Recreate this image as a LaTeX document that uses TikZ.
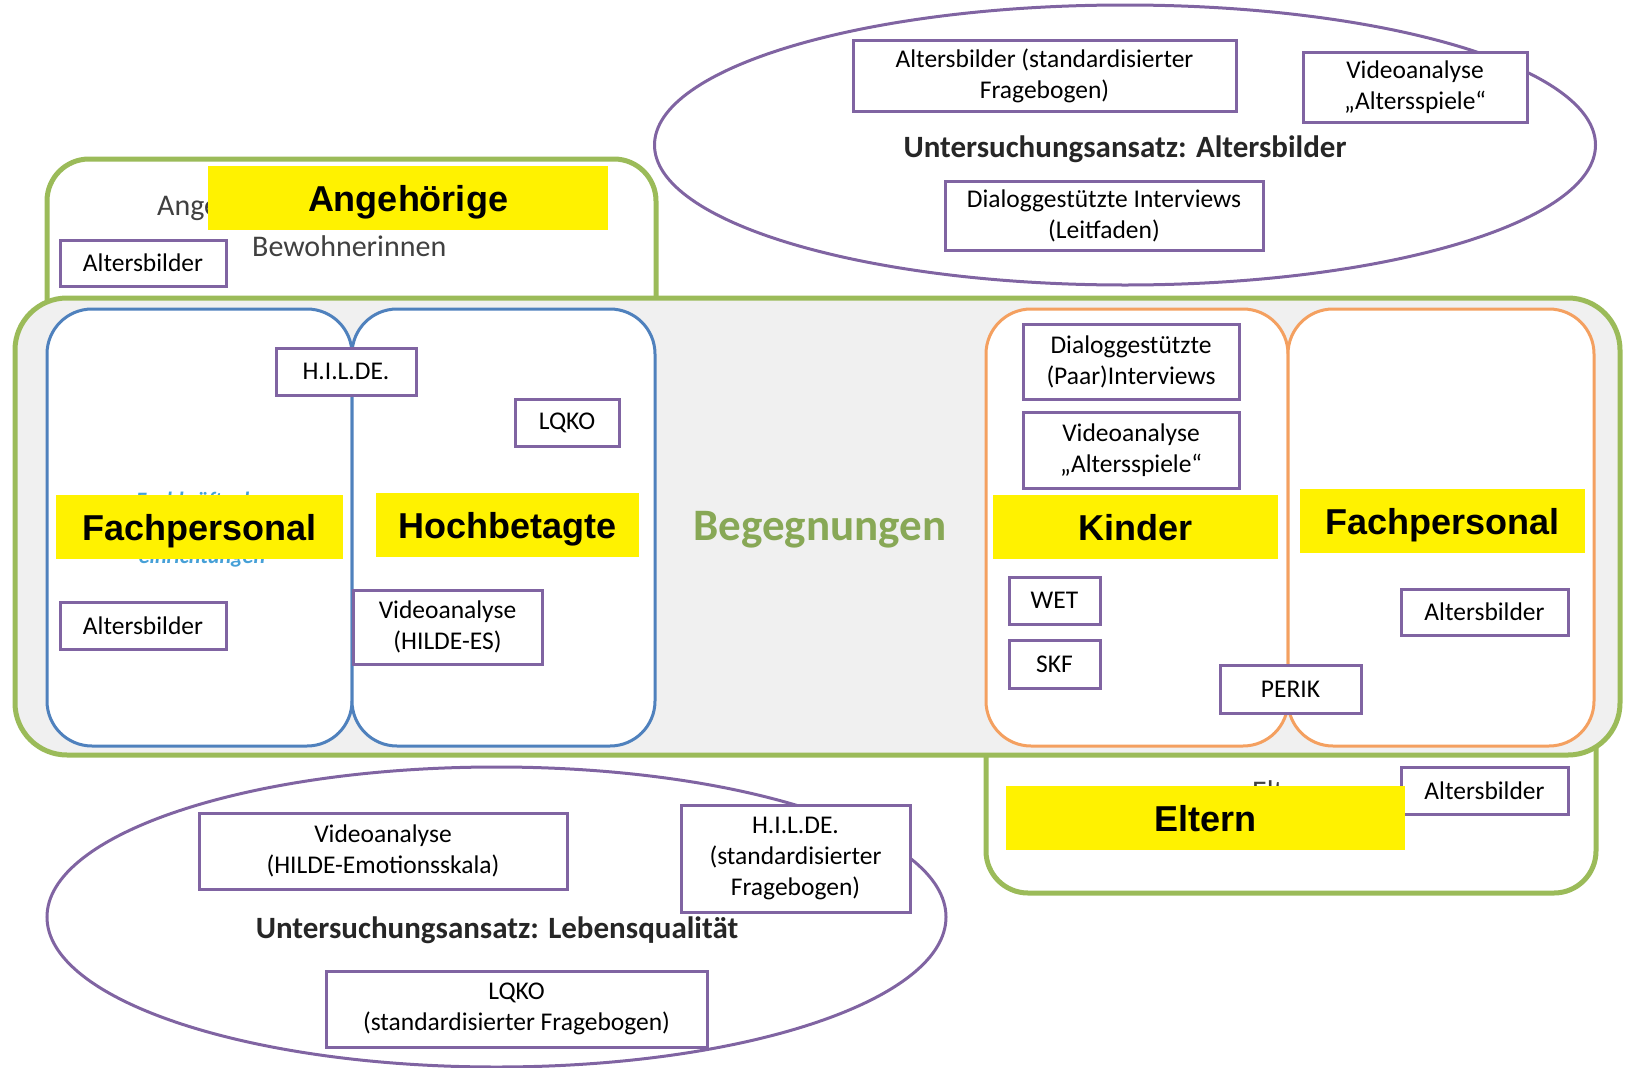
\documentclass[tikz,border=0pt]{standalone}
\usepackage{fontspec}
\setmainfont{Carlito}
\newfontfamily\markfont{Liberation Sans}
\usetikzlibrary{shapes.geometric, positioning, calc}
\definecolor{methodpurple}{RGB}{128,100,162}
\definecolor{groupgreen}{RGB}{155,187,89}
\definecolor{groupblue}{RGB}{79,129,189}
\definecolor{grouporange}{RGB}{244,160,96}
\definecolor{meetgreen}{RGB}{136,168,86}
\definecolor{meetgray}{RGB}{240,240,240}
\definecolor{hiddenblue}{RGB}{70,160,215}
\tikzstyle{method} = [rectangle, draw=methodpurple, line width=3pt, fill=white, align=center, inner sep=0pt, font=\fontsize{25.5}{31}\selectfont]
\tikzstyle{approach} = [ellipse, draw=methodpurple, line width=3pt, inner sep=0pt]
\tikzstyle{approach_title} = [font=\bfseries\fontsize{31}{36}\selectfont, text=black!85]
\tikzstyle{group_green} = [rectangle, rounded corners=42pt, draw=groupgreen, line width=5pt, fill=white]
\tikzstyle{group_blue} = [rectangle, rounded corners=45pt, draw=groupblue, line width=3pt, fill=white]
\tikzstyle{group_orange} = [rectangle, rounded corners=45pt, draw=grouporange, line width=3pt, fill=white]
\tikzstyle{marker} = [rectangle, fill=yellow, inner sep=0pt, text height=30pt, text depth=3pt, font=\markfont\bfseries\fontsize{36}{40}\selectfont]
\tikzstyle{grouptext} = [font=\fontsize{30}{34}\selectfont, text=black!75, inner sep=0pt]

\begin{document}
\begin{tikzpicture}[x=1pt, y=-1pt,
	meeting/.style={rectangle, rounded corners=52pt, draw=groupgreen, line width=5pt, fill=meetgray}]

	\useasboundingbox (0,0) rectangle (1625,1068);

		% Untersuchungsansatz Altersbilder
		\node (ageimages) at (1125,145) [approach, minimum width=941, minimum height=280] {};
		\node (ageimages_quest) at (1044.5,75.5) [method, minimum width=383, minimum height=71] {Altersbilder (standardisierter\\Fragebogen)};
		\node (ageimages_video) at (1415,87) [method, minimum width=224, minimum height=70] {Videoanalyse\\„Altersspiele“};
		\node (ageimages_title) at (1125,149) [approach_title] {Untersuchungsansatz: Altersbilder};
		\node (ageimages_interview) at (1104,215.5) [method, minimum width=318, minimum height=69] {Dialoggestützte Interviews\\(Leitfaden)};

		% Untersuchungsansatz Lebensqualitaet
		\node (lifequality) at (496.5,917) [approach, minimum width=899, minimum height=300] {};
		\node (lifequality_video) at (383,851) [method, minimum width=368, minimum height=76] {Videoanalyse\\(HILDE-Emotionsskala)};
		\node (lifequality_hilde) at (795.5,858.5) [method, minimum width=229, minimum height=107] {H.I.L.DE.\\(standardisierter\\Fragebogen)};
		\node (lifequality_title) at (497,930) [approach_title] {Untersuchungsansatz: Lebensqualität};
		\node (lifequality_lqko) at (516.5,1009) [method, minimum width=381, minimum height=76] {LQKO\\(standardisierter Fragebogen)};

		% Angehoerige and Eltern, partly behind the meeting box
		\node (relatives) at (351.5,249.5) [group_green, minimum width=609, minimum height=181] {};
		\node (parents) at (1291,796.5) [group_green, minimum width=610, minimum height=193] {};

		\node (meeting) at (817.5,526.5) [meeting, minimum width=1605, minimum height=457] {};

		\node (staff_left) at (199.5,527.5) [group_blue, minimum width=305, minimum height=437] {};
		\node (elderly) at (503.5,527.5) [group_blue, minimum width=303, minimum height=437] {};
		\node (children) at (1137,527.5) [group_orange, minimum width=302, minimum height=437] {};
		\node (staff_right) at (1441,527.5) [group_orange, minimum width=306, minimum height=437] {};

		\node (begegnungen) at (820,530) [font=\bfseries\fontsize{45}{50}\selectfont, text=meetgreen] {Begegnungen};

		% methods inside the groups
		\node (relatives_ab) at (143,263) [method, minimum width=166, minimum height=46] {Altersbilder};
		\node (relatives_txt) at (157,208) [grouptext, anchor=west] {Angehörige};
		\node (relatives_txt2) at (252,246) [grouptext, anchor=west] {Bewohnerinnen};

		\node (staff_hidden) at (202,530) [font=\bfseries\itshape\fontsize{22}{28}\selectfont, text=hiddenblue, align=center] {Fachkräfte der\\Pflege-\\einrichtungen};
		\node (elderly_hilde) at (346,371.5) [method, minimum width=140, minimum height=47] {H.I.L.DE.};
		\node (elderly_lqko) at (567,422.5) [method, minimum width=104, minimum height=47] {LQKO};
		\node (staff_left_ab) at (143,625.5) [method, minimum width=166, minimum height=47] {Altersbilder};
		\node (elderly_video) at (447.5,627) [method, minimum width=189, minimum height=74] {Videoanalyse\\(HILDE-ES)};

		\node (children_interview) at (1131,361.5) [method, minimum width=216, minimum height=75] {Dialoggestützte\\(Paar)Interviews};
		\node (children_video) at (1131,450) [method, minimum width=216, minimum height=76] {Videoanalyse\\„Altersspiele“};
		\node (children_wet) at (1054.5,600.5) [method, minimum width=91, minimum height=47] {WET};
		\node (children_skf) at (1054.5,664) [method, minimum width=91, minimum height=48] {SKF};
		\node (children_perik) at (1290.5,689) [method, minimum width=141, minimum height=48] {PERIK};
		\node (staff_right_ab) at (1484.5,612) [method, minimum width=167, minimum height=46] {Altersbilder};

		\node (parents_ab) at (1484.5,790.5) [method, minimum width=167, minimum height=47] {Altersbilder};
		\node (parents_txt) at (1252,801) [grouptext, anchor=base west] {Eltern};

		% yellow labels on top
		\node (mark_relatives) at (408,198) [marker, minimum width=400, minimum height=64] {Angehörige};
		\node (mark_staff_left) at (199.5,527) [marker, minimum width=287, minimum height=64] {Fachpersonal};
		\node (mark_elderly) at (507.5,525) [marker, minimum width=263, minimum height=64] {Hochbetagte};
		\node (mark_children) at (1135.5,527) [marker, minimum width=285, minimum height=64] {Kinder};
		\node (mark_staff_right) at (1442.5,521) [marker, minimum width=285, minimum height=64] {Fachpersonal};
		\node (mark_parents) at (1205.5,818) [marker, minimum width=399, minimum height=64] {Eltern};

	\end{tikzpicture}
\end{document}
